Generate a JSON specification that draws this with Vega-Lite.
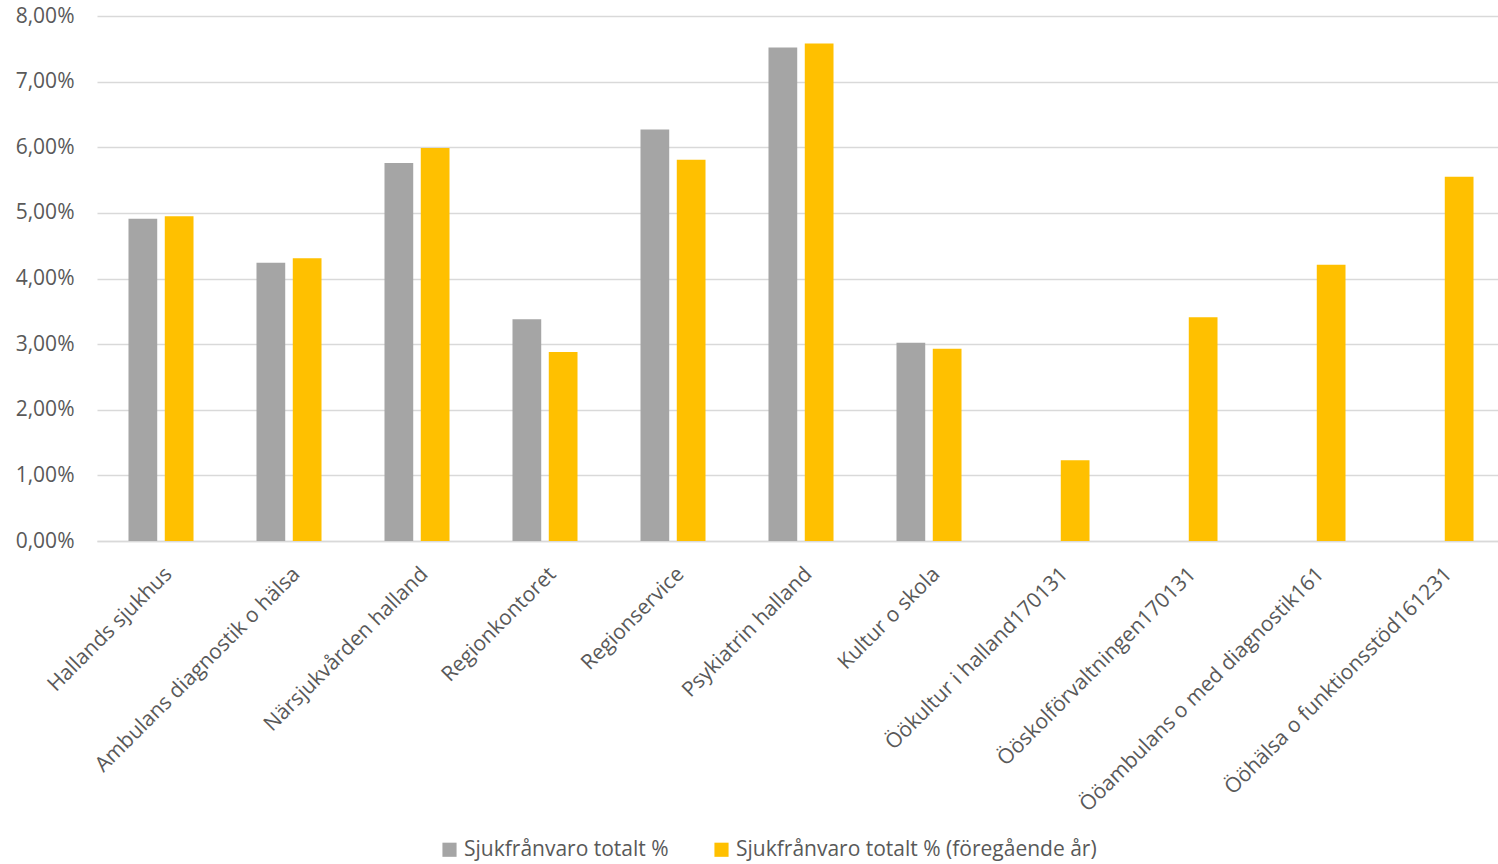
{
  "$schema": "https://vega.github.io/schema/vega-lite/v6.json",
  "width": 1401,
  "height": 525,
  "autosize": {"type": "none"},
  "padding": {"left": 97, "top": 16, "right": 0, "bottom": 323},
  "background": "white",
  "data": {
    "values": [
      {"enhet": "Hallands sjukhus", "serie": "Sjukfrånvaro totalt %", "varde": 4.91},
      {"enhet": "Hallands sjukhus", "serie": "Sjukfrånvaro totalt % (föregående år)", "varde": 4.95},
      {"enhet": "Ambulans diagnostik o hälsa", "serie": "Sjukfrånvaro totalt %", "varde": 4.24},
      {"enhet": "Ambulans diagnostik o hälsa", "serie": "Sjukfrånvaro totalt % (föregående år)", "varde": 4.31},
      {"enhet": "Närsjukvården halland", "serie": "Sjukfrånvaro totalt %", "varde": 5.76},
      {"enhet": "Närsjukvården halland", "serie": "Sjukfrånvaro totalt % (föregående år)", "varde": 5.99},
      {"enhet": "Regionkontoret", "serie": "Sjukfrånvaro totalt %", "varde": 3.38},
      {"enhet": "Regionkontoret", "serie": "Sjukfrånvaro totalt % (föregående år)", "varde": 2.88},
      {"enhet": "Regionservice", "serie": "Sjukfrånvaro totalt %", "varde": 6.27},
      {"enhet": "Regionservice", "serie": "Sjukfrånvaro totalt % (föregående år)", "varde": 5.81},
      {"enhet": "Psykiatrin halland", "serie": "Sjukfrånvaro totalt %", "varde": 7.52},
      {"enhet": "Psykiatrin halland", "serie": "Sjukfrånvaro totalt % (föregående år)", "varde": 7.58},
      {"enhet": "Kultur o skola", "serie": "Sjukfrånvaro totalt %", "varde": 3.02},
      {"enhet": "Kultur o skola", "serie": "Sjukfrånvaro totalt % (föregående år)", "varde": 2.93},
      {"enhet": "Öökultur i halland170131", "serie": "Sjukfrånvaro totalt % (föregående år)", "varde": 1.23},
      {"enhet": "Ööskolförvaltningen170131", "serie": "Sjukfrånvaro totalt % (föregående år)", "varde": 3.41},
      {"enhet": "Ööambulans o med diagnostik161", "serie": "Sjukfrånvaro totalt % (föregående år)", "varde": 4.21},
      {"enhet": "Ööhälsa o funktionsstöd161231", "serie": "Sjukfrånvaro totalt % (föregående år)", "varde": 5.55}
    ]
  },
  "mark": {"type": "bar"},
  "encoding": {
    "x": {
      "field": "enhet",
      "type": "nominal",
      "sort": ["Hallands sjukhus", "Ambulans diagnostik o hälsa", "Närsjukvården halland", "Regionkontoret", "Regionservice", "Psykiatrin halland", "Kultur o skola", "Öökultur i halland170131", "Ööskolförvaltningen170131", "Ööambulans o med diagnostik161", "Ööhälsa o funktionsstöd161231"],
      "scale": {"range": [0, 1408], "paddingInner": 0.492, "paddingOuter": 0.246},
      "axis": {
        "title": null,
        "labelAngle": -45,
        "labelFont": "Open Sans",
        "labelFontSize": 21,
        "labelColor": "#595959",
        "labelPadding": 22,
        "ticks": false,
        "domainColor": "#D9D9D9",
        "domainWidth": 1.5,
        "labelLimit": 0
      }
    },
    "xOffset": {
      "field": "serie",
      "type": "nominal",
      "scale": {"domain": ["Sjukfrånvaro totalt %", "Sjukfrånvaro totalt % (föregående år)"], "paddingInner": 0.208, "paddingOuter": 0}
    },
    "y": {
      "field": "varde",
      "type": "quantitative",
      "scale": {"domain": [0, 8], "nice": false},
      "axis": {
        "title": null,
        "values": [0, 1, 2, 3, 4, 5, 6, 7, 8],
        "labelExpr": "replace(format(datum.value, '.2f'), '.', ',') + '%'",
        "labelFont": "Open Sans",
        "labelFontSize": 21,
        "labelColor": "#595959",
        "labelPadding": 23,
        "ticks": false,
        "domain": false,
        "gridColor": "#D9D9D9",
        "gridWidth": 1.5
      }
    },
    "color": {
      "field": "serie",
      "type": "nominal",
      "scale": {"domain": ["Sjukfrånvaro totalt %", "Sjukfrånvaro totalt % (föregående år)"], "range": ["#A5A5A5", "#FFC000"]},
      "legend": {
        "title": null,
        "orient": "none",
        "direction": "horizontal",
        "legendX": 342,
        "legendY": 823,
        "symbolType": "square",
        "symbolSize": 200,
        "symbolStrokeWidth": 0,
        "labelFont": "Open Sans",
        "labelFontSize": 21,
        "labelColor": "#595959",
        "labelOffset": 4,
        "columnPadding": 42,
        "labelLimit": 0
      }
    }
  },
  "config": {
    "view": {"stroke": null}
  }
}
